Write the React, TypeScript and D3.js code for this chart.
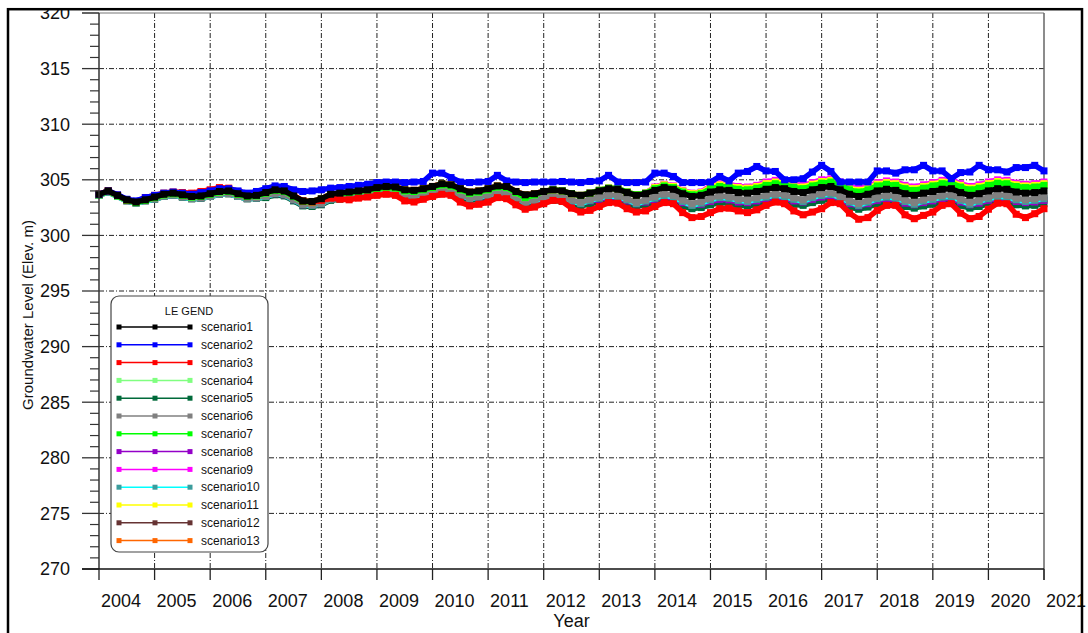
import React from "react";
import * as d3 from "d3";

const width = 1088;
const height = 633;
const plot = { left: 99, right: 1044, top: 13, bottom: 569 };
const font = "'Liberation Sans', Arial, Helvetica, sans-serif";

// axis ticks
const yearTicks = [2004, 2005, 2006, 2007, 2008, 2009, 2010, 2011, 2012, 2013, 2014, 2015, 2016, 2017, 2018, 2019, 2020, 2021];
const levelTicks = [270, 275, 280, 285, 290, 295, 300, 305, 310, 315, 320];

// readings every second month (Jan, Mar, May, Jul, Sep, Nov), 2004 -> 2021
const sampleYears = d3.range(2004, 2021);
const sampleMonths = [0, 2, 4, 6, 8, 10];
const sampleTimes = sampleYears.flatMap((yr) => sampleMonths.map((m) => yr + m / 12)).concat([2021]);

const scenario1 = [
  303.7, 304.0, 303.6, 303.2, 303.0, 303.2,
  303.45, 303.7, 303.8, 303.65, 303.5, 303.55,
  303.75, 303.95, 304.0, 303.75, 303.55, 303.6,
  303.85, 304.1, 304.0, 303.55, 303.1, 303.05,
  303.3, 303.7, 303.8, 303.9, 304.0, 304.1,
  304.3, 304.4, 304.35, 304.1, 304.05, 304.2,
  304.4, 304.65, 304.55, 304.2, 303.9, 304.0,
  304.2, 304.45, 304.4, 303.95, 303.65, 303.75,
  303.95, 304.1, 304.0, 303.75, 303.6, 303.8,
  304.0, 304.2, 304.15, 303.85, 303.6, 303.75,
  304.05, 304.3, 304.15, 303.75, 303.5, 303.6,
  303.9, 304.1, 304.05, 303.85, 303.8, 303.95,
  304.15, 304.3, 304.2, 303.95, 303.85, 304.1,
  304.3, 304.4, 304.1, 303.7, 303.5, 303.7,
  304.0, 304.15, 304.05, 303.75, 303.6, 303.8,
  303.95, 304.15, 304.2, 303.85, 303.6, 303.75,
  304.0, 304.2, 304.15, 303.9, 303.8, 303.85,
  304.0,
];
const scenario2 = [
  303.7, 304.0, 303.65, 303.25, 303.1, 303.4,
  303.6, 303.8, 303.9, 303.8, 303.7, 303.85,
  304.0, 304.2, 304.2, 304.0, 303.8, 303.95,
  304.2, 304.45, 304.4, 304.1, 303.95, 304.0,
  304.1, 304.25, 304.3, 304.4, 304.5, 304.6,
  304.75, 304.8, 304.8, 304.75, 304.8, 304.85,
  305.6, 305.6, 305.2, 304.8, 304.75, 304.8,
  304.85, 305.4, 304.9, 304.8, 304.75, 304.8,
  304.8, 304.8, 304.85, 304.8, 304.75, 304.85,
  304.9, 305.4, 304.8, 304.75, 304.75, 304.8,
  305.6, 305.6, 305.3, 304.75, 304.75, 304.75,
  304.8, 305.3, 304.9, 305.6, 305.75, 306.2,
  305.8, 305.75, 305.0, 305.0, 305.1, 305.7,
  306.3, 305.75, 304.8, 304.8, 304.8, 304.8,
  305.8, 305.8, 305.6, 305.9, 305.9, 306.3,
  305.8, 305.8, 305.1, 305.65, 305.7, 306.3,
  305.9, 305.9, 305.7, 306.1, 306.1, 306.3,
  305.8,
];
const scenario3 = [
  303.7, 304.0, 303.6, 303.2, 303.05, 303.4,
  303.6, 303.8, 303.9, 303.85, 303.8, 303.95,
  304.1, 304.3, 304.25, 303.95, 303.75, 303.85,
  304.0, 304.2, 304.05, 303.6, 303.1, 303.0,
  303.15, 303.35, 303.25, 303.2, 303.35, 303.45,
  303.6, 303.7, 303.6, 303.1, 303.0, 303.25,
  303.5, 303.7, 303.6, 303.0, 302.65, 302.8,
  303.0, 303.4, 303.3, 302.75, 302.35, 302.55,
  302.85, 303.15, 303.05, 302.45, 302.1, 302.25,
  302.6, 302.95, 302.9, 302.4, 302.1, 302.2,
  302.6, 302.95, 302.85, 302.05, 301.6, 301.7,
  302.05, 302.4, 302.45, 302.2, 302.05, 302.3,
  302.7, 303.0, 302.85, 302.2, 301.85, 302.1,
  302.4, 302.95, 302.85, 302.0, 301.45, 301.6,
  302.25, 302.7, 302.7, 301.85, 301.5, 301.8,
  302.1, 302.7, 302.85, 302.0, 301.5, 301.7,
  302.35, 302.9, 302.85, 301.9, 301.6, 301.95,
  302.4,
];
const scenario4 = [
  303.65, 303.95, 303.55, 303.15, 302.95, 303.15,
  303.4, 303.65, 303.75, 303.6, 303.45, 303.5,
  303.7, 303.9, 303.95, 303.7, 303.5, 303.55,
  303.8, 304.05, 303.95, 303.5, 303.05, 303.0,
  303.25, 303.65, 303.75, 303.85, 303.95, 304.05,
  304.2, 304.3, 304.25, 304.0, 303.95, 304.1,
  304.3, 304.55, 304.45, 304.1, 303.8, 303.9,
  304.1, 304.35, 304.3, 303.85, 303.4, 303.65,
  303.95, 304.1, 304.0, 303.75, 303.6, 303.8,
  304.05, 304.25, 304.2, 303.9, 303.65, 303.8,
  304.2, 304.45, 304.3, 303.9, 303.65, 303.75,
  304.2, 304.4, 304.35, 304.15, 304.1, 304.25,
  304.5, 304.65, 304.55, 304.3, 304.2, 304.45,
  304.7, 304.8, 304.5, 304.1, 303.9, 304.1,
  304.45, 304.6, 304.5, 304.2, 304.05, 304.25,
  304.45, 304.65, 304.7, 304.35, 304.1, 304.25,
  304.5, 304.7, 304.65, 304.4, 304.3, 304.35,
  304.5,
];
const scenario5 = [
  303.65, 303.95, 303.55, 303.15, 302.95, 303.15,
  303.25, 303.5, 303.6, 303.45, 303.3, 303.35,
  303.5, 303.7, 303.75, 303.5, 303.3, 303.35,
  303.4, 303.65, 303.55, 303.1, 302.65, 302.6,
  302.75, 303.15, 303.25, 303.35, 303.45, 303.55,
  303.7, 303.8, 303.75, 303.5, 303.45, 303.6,
  303.65, 303.9, 303.8, 303.45, 303.15, 303.25,
  303.35, 303.6, 303.55, 303.1, 302.8, 302.9,
  303.0, 303.15, 303.05, 302.8, 302.65, 302.85,
  303.0, 303.2, 303.15, 302.85, 302.6, 302.75,
  302.95, 303.2, 303.05, 302.65, 302.4, 302.5,
  302.75, 302.95, 302.9, 302.7, 302.65, 302.8,
  303.0, 303.15, 303.05, 302.8, 302.7, 302.95,
  303.15, 303.25, 302.95, 302.55, 302.35, 302.55,
  302.85, 303.0, 302.9, 302.6, 302.45, 302.65,
  302.8, 303.0, 303.05, 302.7, 302.45, 302.6,
  302.85, 303.05, 303.0, 302.75, 302.65, 302.7,
  302.85,
];
const scenario6 = [
  303.65, 303.95, 303.55, 303.15, 302.95, 303.15,
  303.3, 303.55, 303.65, 303.5, 303.35, 303.4,
  303.55, 303.75, 303.8, 303.55, 303.35, 303.4,
  303.55, 303.8, 303.7, 303.25, 302.8, 302.75,
  302.9, 303.3, 303.4, 303.5, 303.6, 303.7,
  303.85, 303.95, 303.9, 303.65, 303.6, 303.75,
  303.9, 304.15, 304.05, 303.7, 303.35, 303.5,
  303.65, 303.9, 303.85, 303.4, 303.0, 303.2,
  303.4, 303.55, 303.45, 303.2, 302.95, 303.25,
  303.45, 303.65, 303.6, 303.3, 302.95, 303.2,
  303.5, 303.75, 303.6, 303.2, 302.85, 303.05,
  303.35, 303.55, 303.5, 303.3, 303.2, 303.4,
  303.6, 303.75, 303.65, 303.4, 303.2, 303.55,
  303.75, 303.85, 303.55, 303.15, 302.85, 303.15,
  303.45, 303.6, 303.5, 303.2, 302.95, 303.25,
  303.4, 303.6, 303.65, 303.3, 302.95, 303.2,
  303.45, 303.65, 303.6, 303.35, 303.2, 303.3,
  303.45,
];
const scenario7 = [
  303.65, 303.95, 303.55, 303.15, 302.95, 303.15,
  303.4, 303.65, 303.75, 303.6, 303.45, 303.5,
  303.7, 303.9, 303.95, 303.7, 303.5, 303.55,
  303.8, 304.05, 303.95, 303.5, 303.05, 303.0,
  303.25, 303.65, 303.75, 303.85, 303.95, 304.05,
  304.2, 304.3, 304.25, 304.0, 303.95, 304.1,
  304.3, 304.55, 304.45, 304.1, 303.8, 303.9,
  304.1, 304.35, 304.3, 303.85, 303.4, 303.65,
  303.95, 304.1, 304.0, 303.75, 303.6, 303.8,
  304.05, 304.25, 304.2, 303.9, 303.65, 303.8,
  304.2, 304.45, 304.3, 303.9, 303.65, 303.75,
  304.2, 304.4, 304.35, 304.15, 304.1, 304.25,
  304.5, 304.65, 304.55, 304.3, 304.2, 304.45,
  304.7, 304.8, 304.5, 304.1, 303.9, 304.1,
  304.45, 304.6, 304.5, 304.2, 304.05, 304.25,
  304.45, 304.65, 304.7, 304.35, 304.1, 304.25,
  304.5, 304.7, 304.65, 304.4, 304.3, 304.35,
  304.5,
];
const scenario8 = [
  303.65, 303.95, 303.55, 303.15, 302.95, 303.15,
  303.3, 303.55, 303.65, 303.5, 303.35, 303.4,
  303.55, 303.75, 303.8, 303.55, 303.35, 303.4,
  303.5, 303.75, 303.65, 303.2, 302.75, 302.7,
  302.85, 303.25, 303.35, 303.45, 303.55, 303.65,
  303.8, 303.9, 303.85, 303.6, 303.55, 303.7,
  303.8, 304.05, 303.95, 303.6, 303.3, 303.4,
  303.55, 303.8, 303.75, 303.3, 303.0, 303.1,
  303.25, 303.4, 303.3, 303.05, 302.9, 303.1,
  303.25, 303.45, 303.4, 303.1, 302.85, 303.0,
  303.25, 303.5, 303.35, 302.95, 302.7, 302.8,
  303.05, 303.25, 303.2, 303.0, 302.95, 303.1,
  303.3, 303.45, 303.35, 303.1, 303.0, 303.25,
  303.45, 303.55, 303.25, 302.85, 302.65, 302.85,
  303.15, 303.3, 303.2, 302.9, 302.75, 302.95,
  303.1, 303.3, 303.35, 303.0, 302.75, 302.9,
  303.15, 303.35, 303.3, 303.05, 302.95, 303.0,
  303.15,
];
const scenario9 = [
  303.7, 304.0, 303.6, 303.2, 303.0, 303.2,
  303.45, 303.7, 303.8, 303.65, 303.5, 303.55,
  303.75, 303.95, 304.0, 303.75, 303.55, 303.6,
  303.85, 304.1, 304.0, 303.55, 303.1, 303.05,
  303.3, 303.7, 303.8, 303.9, 304.0, 304.1,
  304.3, 304.4, 304.35, 304.1, 304.05, 304.2,
  304.4, 304.65, 304.55, 304.2, 303.9, 304.0,
  304.2, 304.45, 304.4, 303.95, 303.65, 303.75,
  303.95, 304.1, 304.0, 303.75, 303.6, 303.8,
  304.05, 304.25, 304.2, 303.9, 303.65, 303.8,
  304.35, 304.6, 304.45, 304.05, 303.8, 303.9,
  304.45, 304.65, 304.6, 304.4, 304.35, 304.5,
  304.8, 304.95, 304.85, 304.6, 304.5, 304.75,
  305.0, 305.1, 304.8, 304.4, 304.2, 304.4,
  304.75, 304.9, 304.8, 304.5, 304.35, 304.55,
  304.75, 304.95, 305.0, 304.65, 304.4, 304.55,
  304.8, 305.0, 304.95, 304.7, 304.6, 304.65,
  304.8,
];
const scenario10 = [
  303.6, 303.9, 303.5, 303.1, 302.9, 303.1,
  303.25, 303.5, 303.6, 303.45, 303.3, 303.35,
  303.5, 303.7, 303.75, 303.5, 303.3, 303.35,
  303.5, 303.75, 303.65, 303.2, 302.75, 302.7,
  302.85, 303.25, 303.35, 303.45, 303.55, 303.65,
  303.8, 303.9, 303.85, 303.6, 303.55, 303.7,
  303.85, 304.1, 304.0, 303.65, 303.3, 303.45,
  303.6, 303.85, 303.8, 303.35, 302.95, 303.15,
  303.3, 303.45, 303.35, 303.1, 302.85, 303.15,
  303.35, 303.55, 303.5, 303.2, 302.85, 303.1,
  303.35, 303.6, 303.45, 303.05, 302.7, 302.9,
  303.2, 303.4, 303.35, 303.15, 303.05, 303.25,
  303.45, 303.6, 303.5, 303.25, 303.05, 303.4,
  303.6, 303.7, 303.4, 303.0, 302.7, 303.0,
  303.3, 303.45, 303.35, 303.05, 302.8, 303.1,
  303.25, 303.45, 303.5, 303.15, 302.8, 303.05,
  303.3, 303.5, 303.45, 303.2, 303.05, 303.15,
  303.3,
];
const scenario11 = [
  303.7, 304.0, 303.6, 303.2, 303.0, 303.2,
  303.45, 303.7, 303.8, 303.65, 303.5, 303.55,
  303.75, 303.95, 304.0, 303.75, 303.55, 303.6,
  303.85, 304.1, 304.0, 303.55, 303.1, 303.05,
  303.3, 303.7, 303.8, 303.9, 304.0, 304.1,
  304.3, 304.4, 304.35, 304.1, 304.05, 304.2,
  304.4, 304.65, 304.55, 304.2, 303.9, 304.0,
  304.2, 304.45, 304.4, 303.95, 303.65, 303.75,
  303.95, 304.1, 304.0, 303.75, 303.6, 303.8,
  304.05, 304.25, 304.2, 303.9, 303.65, 303.8,
  304.3, 304.55, 304.4, 304.0, 303.75, 303.85,
  304.35, 304.55, 304.5, 304.3, 304.25, 304.4,
  304.65, 304.8, 304.7, 304.45, 304.35, 304.6,
  304.85, 304.95, 304.65, 304.25, 304.05, 304.25,
  304.6, 304.75, 304.65, 304.35, 304.2, 304.4,
  304.6, 304.8, 304.85, 304.5, 304.25, 304.4,
  304.65, 304.85, 304.8, 304.55, 304.45, 304.5,
  304.65,
];
const scenario12 = [
  303.6, 303.9, 303.5, 303.1, 302.9, 303.1,
  303.25, 303.5, 303.6, 303.45, 303.3, 303.35,
  303.5, 303.7, 303.75, 303.5, 303.3, 303.35,
  303.5, 303.75, 303.65, 303.2, 302.75, 302.7,
  302.85, 303.25, 303.35, 303.45, 303.55, 303.65,
  303.8, 303.9, 303.85, 303.6, 303.55, 303.7,
  303.85, 304.1, 304.0, 303.65, 303.3, 303.45,
  303.6, 303.85, 303.8, 303.35, 302.95, 303.15,
  303.3, 303.45, 303.35, 303.1, 302.85, 303.15,
  303.35, 303.55, 303.5, 303.2, 302.85, 303.1,
  303.35, 303.6, 303.45, 303.05, 302.7, 302.9,
  303.2, 303.4, 303.35, 303.15, 303.05, 303.25,
  303.45, 303.6, 303.5, 303.25, 303.05, 303.4,
  303.6, 303.7, 303.4, 303.0, 302.7, 303.0,
  303.3, 303.45, 303.35, 303.05, 302.8, 303.1,
  303.25, 303.45, 303.5, 303.15, 302.8, 303.05,
  303.3, 303.5, 303.45, 303.2, 303.05, 303.15,
  303.3,
];
const scenario13 = [
  303.7, 304.0, 303.6, 303.2, 303.0, 303.2,
  303.45, 303.7, 303.8, 303.65, 303.5, 303.55,
  303.75, 303.95, 304.0, 303.75, 303.55, 303.6,
  303.85, 304.1, 304.0, 303.55, 303.1, 303.05,
  303.3, 303.7, 303.8, 303.9, 304.0, 304.1,
  304.3, 304.4, 304.35, 304.1, 304.05, 304.2,
  304.4, 304.65, 304.55, 304.2, 303.9, 304.0,
  304.2, 304.45, 304.4, 303.95, 303.65, 303.75,
  303.95, 304.1, 304.0, 303.75, 303.6, 303.8,
  304.05, 304.25, 304.2, 303.9, 303.65, 303.8,
  304.3, 304.55, 304.4, 304.0, 303.75, 303.85,
  304.35, 304.55, 304.5, 304.3, 304.25, 304.4,
  304.65, 304.8, 304.7, 304.45, 304.35, 304.6,
  304.85, 304.95, 304.65, 304.25, 304.05, 304.25,
  304.6, 304.75, 304.65, 304.35, 304.2, 304.4,
  304.6, 304.8, 304.85, 304.5, 304.25, 304.4,
  304.65, 304.85, 304.8, 304.55, 304.45, 304.5,
  304.65,
];

const scenarioNames = ["scenario1", "scenario2", "scenario3", "scenario4", "scenario5", "scenario6", "scenario7", "scenario8", "scenario9", "scenario10", "scenario11", "scenario12", "scenario13"];
const lineColors = ["#000000", "#0000ff", "#ff0000", "#80ff80", "#006a3a", "#808080", "#00ff00", "#9400c8", "#ff00ff", "#00ffff", "#ffff00", "#663333", "#ff6600"];
const markerColors = ["#000000", "#0000ff", "#ff0000", "#80ff80", "#006a3a", "#808080", "#00ff00", "#9400c8", "#ff00ff", "#3c9c9c", "#ffff00", "#663333", "#ff6600"];
const scenarioValues = [scenario1, scenario2, scenario3, scenario4, scenario5, scenario6, scenario7, scenario8, scenario9, scenario10, scenario11, scenario12, scenario13];
// order the software painted them in (last one ends up on top)
const drawOrder = [5, 8, 12, 10, 6, 13, 4, 9, 11, 7, 3, 2, 1];

const x = d3.scaleLinear().domain([2004, 2021]).range([plot.left, plot.right]);
const y = d3.scaleLinear().domain([270, 320]).range([plot.bottom, plot.top]);

const line = d3
  .line<number>()
  .x((_, i) => x(sampleTimes[i]))
  .y((d) => y(d));

const gridDash = "5,2,1,2";

export default function App() {
  const minorTicks = d3.range(270, 321, 1).filter((v) => v % 5 !== 0);
  const legendX = 111;
  const legendY = 296;
  const rowY = (i: number) => legendY + 31 + i * 17.8;

  return (
    <svg
      width={width}
      height={height}
      style={{ position: "absolute", left: 0, top: 0, background: "#fff", fontFamily: font }}
    >
      <rect x={0} y={0} width={width} height={height} fill="#fff" />

      {/* grid */}
      {levelTicks.slice(1, -1).map((v) => (
        <line key={"hg" + v} x1={plot.left} x2={plot.right} y1={y(v)} y2={y(v)} stroke="#222" strokeWidth={1} strokeDasharray={gridDash} />
      ))}
      {yearTicks.slice(1, -1).map((t) => (
        <line key={"vg" + t} x1={x(t)} x2={x(t)} y1={plot.top} y2={plot.bottom} stroke="#222" strokeWidth={1} strokeDasharray={gridDash} />
      ))}
      <line x1={plot.left - 17} x2={plot.right} y1={plot.top} y2={plot.top} stroke="#777" strokeWidth={1.2} />
      <line x1={plot.right} x2={plot.right} y1={plot.top} y2={plot.bottom + 11} stroke="#666" strokeWidth={1.5} />

      {/* series */}
      {drawOrder.map((n) => {
        const vals = scenarioValues[n - 1];
        return (
          <g key={"s" + n}>
            <path d={line(vals) || ""} fill="none" stroke={lineColors[n - 1]} strokeWidth={5.5} strokeLinejoin="miter" />
            {vals.map((v, i) => (
              <rect key={i} x={x(sampleTimes[i]) - 3.5} y={y(v) - 3.5} width={7} height={7} fill={markerColors[n - 1]} />
            ))}
          </g>
        );
      })}

      {/* y axis */}
      <line x1={plot.left} x2={plot.left} y1={plot.top} y2={plot.bottom} stroke="#333" strokeWidth={1.5} />
      {levelTicks.map((v) => (
        <g key={"yt" + v}>
          <line x1={plot.left - 17} x2={plot.left} y1={y(v)} y2={y(v)} stroke="#333" strokeWidth={1.3} />
          <text x={70} y={y(v)} dy="0.36em" textAnchor="end" fontSize={18} fill="#111">
            {v}
          </text>
        </g>
      ))}
      {minorTicks.map((v) => (
        <line key={"ym" + v} x1={plot.left - 9} x2={plot.left} y1={y(v)} y2={y(v)} stroke="#333" strokeWidth={1.2} />
      ))}

      {/* x axis */}
      <line x1={plot.left - 17} x2={plot.right} y1={plot.bottom} y2={plot.bottom} stroke="#111" strokeWidth={1.5} />
      {yearTicks.map((t) => (
        <g key={"xt" + t}>
          <line x1={x(t)} x2={x(t)} y1={plot.bottom} y2={plot.bottom + 11} stroke="#222" strokeWidth={1.3} />
          <text x={x(t) + 2} y={607} fontSize={18} fill="#111">
            {t}
          </text>
        </g>
      ))}

      <text x={(plot.left + plot.right) / 2} y={627} textAnchor="middle" fontSize={18} fill="#111">
        Year
      </text>
      <text transform="translate(33,315) rotate(-90)" textAnchor="middle" fontSize={15} fill="#111">
        Groundwater Level (Elev. m)
      </text>

      {/* legend */}
      <rect x={legendX} y={legendY} width={157} height={256} rx={8} ry={8} fill="#fff" stroke="#444" strokeWidth={1.2} />
      <text x={legendX + 78} y={legendY + 15} dy="0.35em" textAnchor="middle" fontSize={11} fill="#111">
        LE GEND
      </text>
      {scenarioNames.map((name, i) => (
        <g key={name}>
          <line x1={119} x2={190} y1={rowY(i)} y2={rowY(i)} stroke={lineColors[i]} strokeWidth={1.5} />
          {[119, 155, 190].map((mx) => (
            <rect key={mx} x={mx - 2.5} y={rowY(i) - 2.5} width={5} height={5} fill={markerColors[i]} />
          ))}
          <text x={201} y={rowY(i)} dy="0.35em" fontSize={12} fill="#111">
            {name}
          </text>
        </g>
      ))}

      {/* outer frame, clips the top label */}
      <rect x={0} y={0} width={width} height={9} fill="#fff" />
      <rect x={8} y={9.2} width={1074} height={700} fill="none" stroke="#000" strokeWidth={2.5} />
    </svg>
  );
}
